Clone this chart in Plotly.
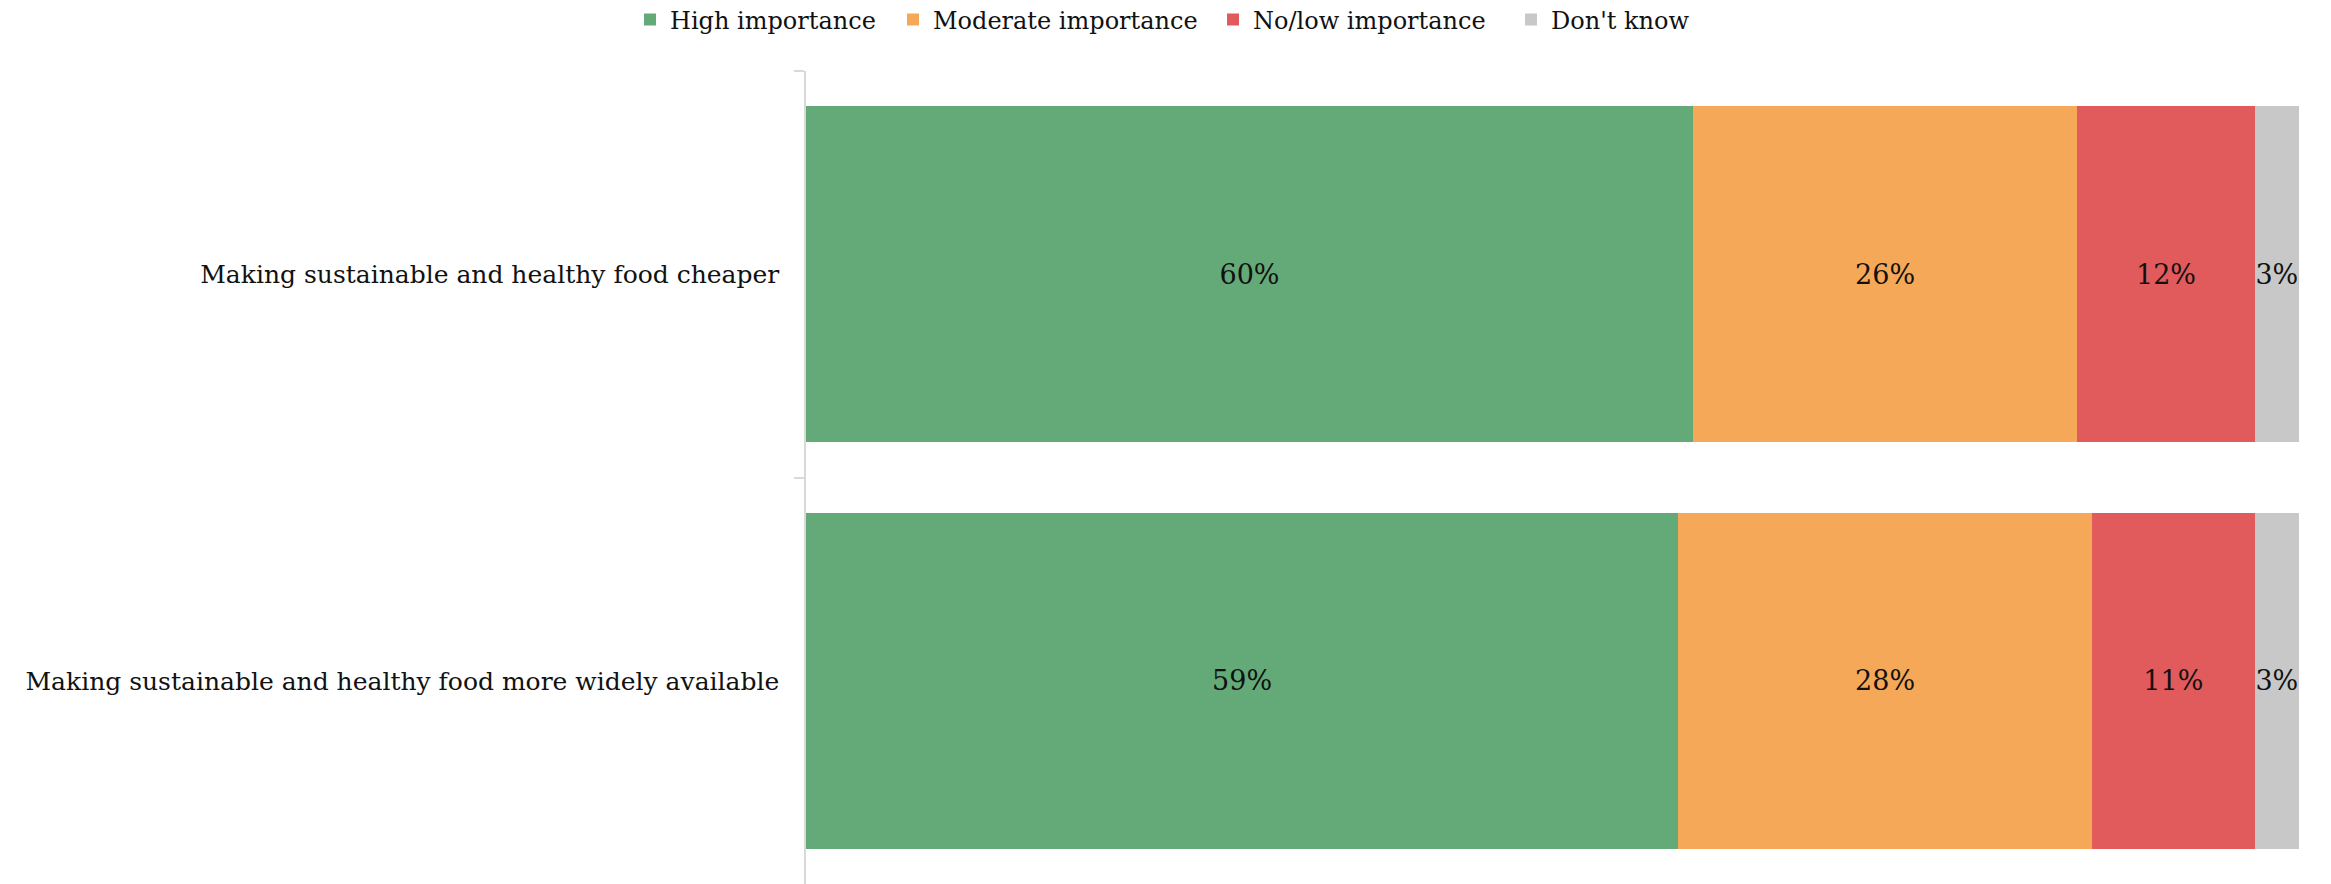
import plotly.graph_objects as go

categories = [
    "Making sustainable and healthy food cheaper",
    "Making sustainable and healthy food more widely available",
]
series_names = ["High importance", "Moderate importance", "No/low importance", "Don't know"]
high = [60, 59]
moderate = [26, 28]
low = [12, 11]
dont_know = [3, 3]
colors = ["#64aa78", "#f5a958", "#e15b5d", "#c8c8c8"]

FONT = "DejaVu Serif"
W, H = 2331, 884

# one legend per series so each entry can sit at its own spot along the top row
legend_ids = ["legend", "legend2", "legend3", "legend4"]
legend_left_px = [630, 893, 1213, 1511]
legend_mid_px = 20

fig = go.Figure()
for name, vals, col, lid in zip(series_names, [high, moderate, low, dont_know], colors, legend_ids):
    fig.add_trace(go.Bar(
        y=categories,
        x=vals,
        name=name,
        orientation="h",
        legend=lid,
        marker=dict(color=col, line=dict(width=0)),
        text=[f"{v}%" for v in vals],
        textposition="inside",
        insidetextanchor="middle",
        textangle=0,
        constraintext="none",
        textfont=dict(family=FONT, size=27, color="#111111"),
        hoverinfo="skip",
    ))

total = max(h + m + l + d for h, m, l, d in zip(high, moderate, low, dont_know))

legend_style = dict(
    orientation="h",
    xref="container", yref="container",
    xanchor="left",
    y=1 - legend_mid_px / H, yanchor="middle",
    font=dict(family=FONT, size=24, color="#111111"),
    itemwidth=30,
    bgcolor="rgba(0,0,0,0)",
    borderwidth=0,
)
legends = {}
for lid, px in zip(legend_ids, legend_left_px):
    legends[lid] = dict(legend_style, x=px / W)

fig.update_layout(
    barmode="stack",
    bargap=0.174,
    width=W,
    height=H,
    margin=dict(l=806, r=32, t=71, b=0),
    paper_bgcolor="white",
    plot_bgcolor="white",
    font=dict(family=FONT, color="#111111"),
    showlegend=True,
    xaxis=dict(
        range=[0, total],
        visible=False,
        showgrid=False,
        zeroline=False,
        fixedrange=True,
    ),
    yaxis=dict(
        autorange="reversed",
        showline=True,
        linecolor="#d9d9d9",
        linewidth=1.5,
        ticks="outside",
        tickson="boundaries",
        ticklen=10,
        tickcolor="#d9d9d9",
        tickwidth=1.5,
        showgrid=False,
        tickfont=dict(family=FONT, size=25, color="#111111"),
        ticklabelstandoff=20,
    ),
    **legends,
)

fig.write_html("out.html")
